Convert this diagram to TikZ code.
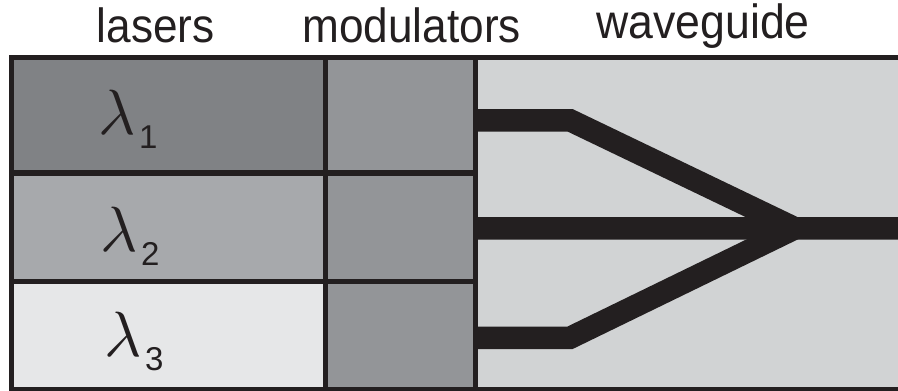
\documentclass[tikz,border=0pt]{standalone}
\usepackage{fontspec}
\setmainfont{Liberation Sans}
\usetikzlibrary{calc}

\definecolor{inkline}{HTML}{231F20}
\definecolor{laserA}{HTML}{808285}
\definecolor{laserB}{HTML}{A7A9AC}
\definecolor{laserC}{HTML}{E6E7E8}
\definecolor{modfill}{HTML}{939598}
\definecolor{guidefill}{HTML}{D1D3D4}

\tikzset{
  cell/.style={draw=inkline, line width=5.5pt, rectangle, inner sep=0pt, outer sep=0pt},
  heading/.style={anchor=base, inner sep=0pt, text=inkline,
    font=\fontsize{48}{48}\selectfont},
  wavelen/.style={anchor=base west, inner sep=0pt, text=inkline},
  guide/.style={draw=inkline, line width=22.5pt, line join=miter, line cap=butt},
}

\newcommand{\lam}[1]{\scalebox{6.4}{$\lambda$}\hspace{3pt}\raisebox{-14pt}{\fontsize{33}{33}\selectfont #1}}

\begin{document}
\begin{tikzpicture}[x=1pt,y=-1pt]
  \useasboundingbox (0,0) rectangle (898,391);
  \clip (0,0) rectangle (898,391);

  % column headings
  \node[heading] (hLasers) at (155.8,42.7) {\scalebox{0.92}[1]{lasers}};
  \node[heading] (hMods)   at (411.7,42.7) {\scalebox{0.92}[1]{modulators}};
  \node[heading] (hGuide)  at (703.0,38.5) {\scalebox{0.93}[1]{waveguide}};

  % waveguide region (runs past the right edge)
  \node[cell, fill=guidefill, minimum width=450pt, minimum height=332pt, anchor=north west]
    (chip) at (475.5,57.5) {};

  % laser cells
  \node[cell, fill=laserA, minimum width=314pt, minimum height=115.5pt] (las1) at (168.5,115.25) {};
  \node[cell, fill=laserB, minimum width=314pt, minimum height=108.5pt] (las2) at (168.5,227.25) {};
  \node[cell, fill=laserC, minimum width=314pt, minimum height=108pt]   (las3) at (168.5,335.5) {};

  % modulator cells
  \node[cell, fill=modfill, minimum width=150pt, minimum height=115.5pt] (mod1) at (400.5,115.25) {};
  \node[cell, fill=modfill, minimum width=150pt, minimum height=108.5pt] (mod2) at (400.5,227.25) {};
  \node[cell, fill=modfill, minimum width=150pt, minimum height=108pt]   (mod3) at (400.5,335.5) {};

  % wavelength labels
  \node[wavelen] (l1) at (98.5,134)   {\lam{1}};
  \node[wavelen] (l2) at (100.5,251.7) {\lam{2}};
  \node[wavelen] (l3) at (104.5,356.7) {\lam{3}};

  % combiner guides
  \coordinate (join) at (795,228.3);
  \coordinate (out)  at (910,228.3);
  \draw[guide] ([yshift=-5pt]mod1.east) -- ++(94.5,0) -- (join);
  \draw[guide] ([yshift=-2.3pt]mod3.east) -- ++(94.5,0) -- (join);
  \draw[guide] ([yshift=-1pt]mod2.east) -- (out);
\end{tikzpicture}
\end{document}
